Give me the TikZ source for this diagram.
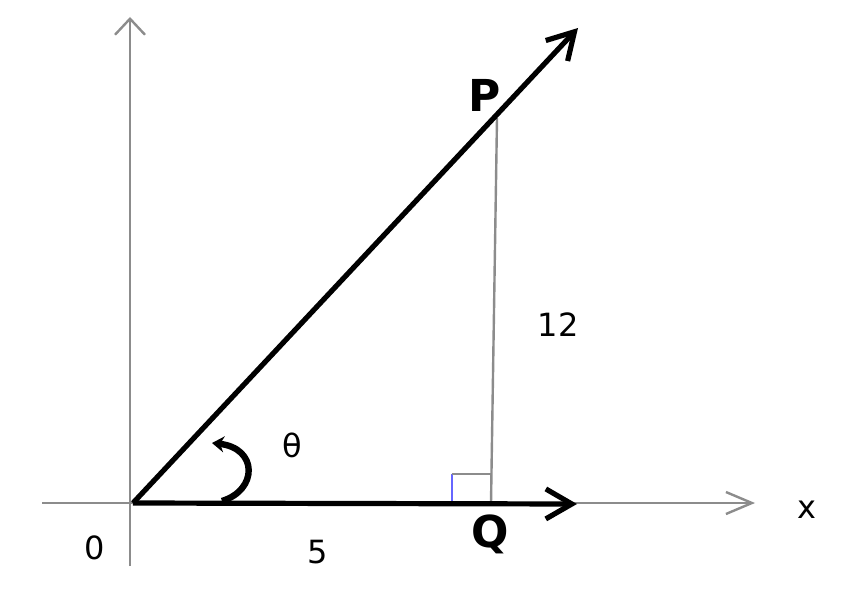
\documentclass[tikz,border=0pt]{standalone}
\usepackage{fontspec}
\setmainfont{DejaVu Sans}
\usetikzlibrary{arrows.meta}
\begin{document}
\begin{tikzpicture}[x=0.5pt,y=-0.5pt,
  axis/.style={draw=black!45, line width=1.2pt},
  vec/.style={draw=black, line width=2.6pt, -{Straight Barb[length=13pt,width=15pt]}},
  lbl/.style={font=\fontsize{16}{18}\selectfont, inner sep=0pt},
  bold/.style={font=\fontsize{22}{24}\selectfont\bfseries, inner sep=0pt}]
\useasboundingbox (0,0) rectangle (844,588);
\coordinate (O) at (133,503);
\coordinate (ytop) at (130,17);
\coordinate (ybot) at (130,566);
\coordinate (xleft) at (42,503);
\coordinate (xright) at (755,503);
\coordinate (A) at (578,28);
\coordinate (B) at (577,504);
\coordinate (Pt) at (497,118);
\coordinate (Qt) at (491,503);
\coordinate (R1) at (452,503);
\coordinate (R2) at (452,474);
\coordinate (R3) at (491,474);
\coordinate (c1) at (222,501);
\coordinate (c2) at (212,443);
% axes
\draw[axis, -{Straight Barb[length=8pt,width=15pt]}] (ybot) -- (ytop);
\draw[axis, -{Straight Barb[length=13pt,width=11pt]}] (xleft) -- (xright);
% PQ
\draw[axis] (Pt) -- (Qt);
% right angle mark
\draw[draw=blue!60, line width=0.8pt] (R1) -- (R2);
\draw[axis, line width=0.8pt] (R2) -- (R3);
% vectors
\draw[vec] (O) -- (A);
\draw[vec] (O) -- (B);
% angle mark
\draw[line width=3.2pt, -{Stealth[length=6pt,width=8pt]}] (c1) .. controls (258,490) and (258,448) .. (c2);
% labels
\node[bold] (P) at (485,95) {P};
\node[bold] (Q) at (490,534) {Q};
\node[lbl] (l12) at (558,325) {12};
\node[lbl] (th) at (292,445) {θ};
\node[lbl] (five) at (318,552) {5};
\node[lbl] (zero) at (95,548) {0};
\node[lbl] (xlab) at (807,510) {x};
\end{tikzpicture}
\end{document}
